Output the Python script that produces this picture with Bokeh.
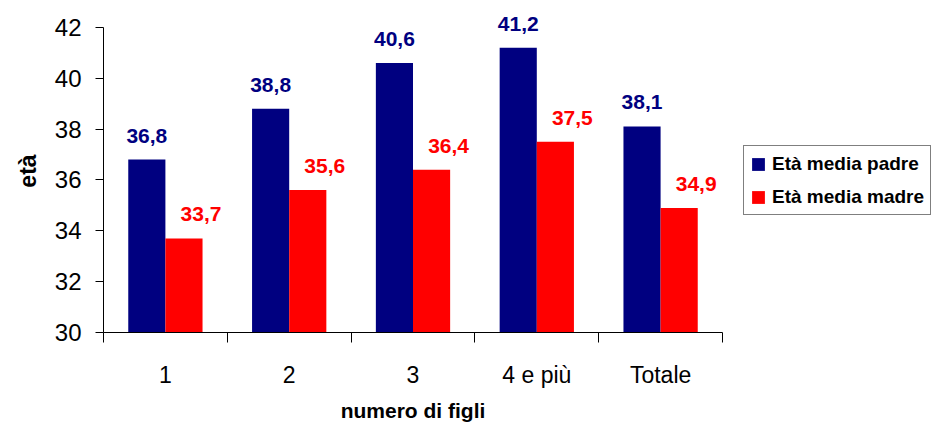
from bokeh.plotting import figure
from bokeh.models import ColumnDataSource, FixedTicker, Legend, LegendItem, LabelSet, Range1d
from bokeh.core.properties import value
from bokeh.embed import file_html
from bokeh.resources import INLINE

categories = ["1", "2", "3", "4 e più", "Totale"]
padre = [36.8, 38.8, 40.6, 41.2, 38.1]
madre = [33.7, 35.6, 36.4, 37.5, 34.9]
series_names = ["Età media padre", "Età media madre"]
y_ticks = [30, 32, 34, 36, 38, 40, 42]
x_title = "numero di figli"
y_title = "età"

NAVY = "#000080"
RED = "#FF0000"
FONT = "Liberation Sans"
Y_HEADROOM = 0.7  # extra room above the last tick for the value labels

n = len(categories)
centers = [i + 0.5 for i in range(n)]


def fmt(v):
    return f"{v:.1f}".replace(".", ",")


src = ColumnDataSource(dict(
    xp=[c - 0.15 for c in centers],
    xm=[c + 0.15 for c in centers],
    padre=padre,
    madre=madre,
    tp=[fmt(v) for v in padre],
    tm=[fmt(v) for v in madre],
))

p = figure(frame_width=619, frame_height=323,
           min_border_left=103, min_border_right=218,
           min_border_top=9, min_border_bottom=92,
           x_range=Range1d(0, n),
           y_range=Range1d(y_ticks[0], y_ticks[-1] + Y_HEADROOM),
           output_backend="svg", toolbar_location=None)
p.outline_line_color = None
p.xgrid.visible = False
p.ygrid.visible = False
p.background_fill_color = "white"
p.border_fill_color = "white"

rp = p.vbar(x="xp", top="padre", bottom=y_ticks[0], width=0.3, source=src,
            fill_color=NAVY, line_color=None)
rm = p.vbar(x="xm", top="madre", bottom=y_ticks[0], width=0.3, source=src,
            fill_color=RED, line_color=None)

lp = LabelSet(x="xp", y="padre", text="tp", source=src, x_offset=0, y_offset=24,
              text_align="center", text_baseline="middle", text_color=NAVY,
              text_font=value(FONT), text_font_size="21px", text_font_style="bold")
lm = LabelSet(x="xm", y="madre", text="tm", source=src, x_offset=17, y_offset=24,
              text_align="center", text_baseline="middle", text_color=RED,
              text_font=value(FONT), text_font_size="21px", text_font_style="bold")
p.add_layout(lp)
p.add_layout(lm)

# x axis
xa = p.xaxis[0]
xa.ticker = FixedTicker(ticks=centers, minor_ticks=list(range(n + 1)))
xa.major_label_overrides = {c: lab for c, lab in zip(centers, categories)}
xa.major_tick_out = 0
xa.major_tick_in = 0
xa.minor_tick_out = 10
xa.minor_tick_in = 0
xa.minor_tick_line_color = "black"
xa.axis_line_color = "black"
xa.major_label_text_font = FONT
xa.major_label_text_font_size = "23px"
xa.major_label_text_color = "black"
xa.major_label_standoff = 19
xa.axis_label = x_title
xa.axis_label_text_font = FONT
xa.axis_label_text_font_size = "21px"
xa.axis_label_text_font_style = "bold"
xa.axis_label_text_color = "black"
xa.axis_label_standoff = 8

# y axis
ya = p.yaxis[0]
ya.ticker = FixedTicker(ticks=y_ticks)
ya.bounds = (y_ticks[0], y_ticks[-1])
ya.major_tick_out = 8
ya.major_tick_in = 0
ya.minor_tick_out = 0
ya.minor_tick_in = 0
ya.axis_line_color = "black"
ya.major_tick_line_color = "black"
ya.major_label_text_font = FONT
ya.major_label_text_font_size = "24px"
ya.major_label_text_color = "black"
ya.major_label_standoff = 14
ya.axis_label = y_title
ya.axis_label_text_font = FONT
ya.axis_label_text_font_size = "23px"
ya.axis_label_text_font_style = "bold"
ya.axis_label_text_color = "black"
ya.axis_label_standoff = 11

legend = Legend(items=[LegendItem(label=series_names[0], renderers=[rp]),
                       LegendItem(label=series_names[1], renderers=[rm])],
                location=(21, 117))
legend.border_line_color = "black"
legend.border_line_width = 1
legend.background_fill_color = "white"
legend.background_fill_alpha = 1
legend.padding = 6
legend.margin = 0
legend.spacing = 10
legend.label_height = 23
legend.glyph_height = 16
legend.glyph_width = 16
legend.label_standoff = 6
legend.label_text_font = FONT
legend.label_text_font_size = "19px"
legend.label_text_font_style = "bold"
legend.label_text_color = "black"
p.add_layout(legend, "right")

open("out.html", "w").write(file_html(p, INLINE))
